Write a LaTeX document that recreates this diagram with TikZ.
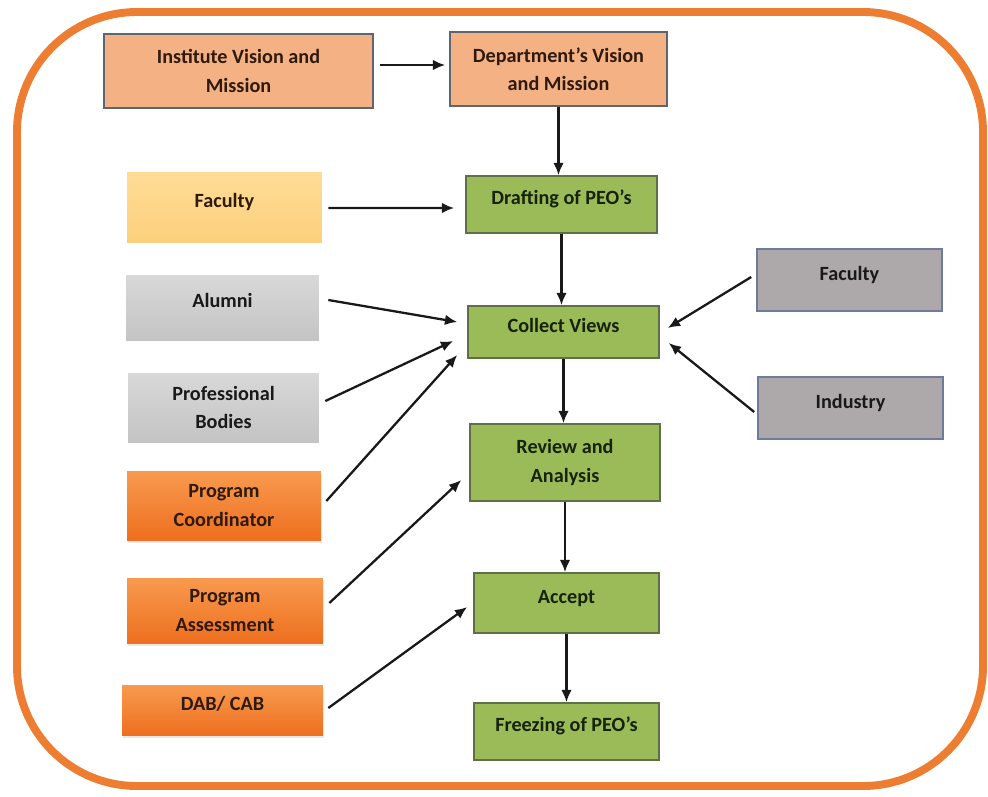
\documentclass[tikz,border=0pt]{standalone}
\usepackage{fontspec}
\setmainfont{Carlito}
\usetikzlibrary{calc,arrows.meta,shadows}

\definecolor{frameorange}{HTML}{ED7D31}
\definecolor{salmon}{HTML}{F4B183}
\definecolor{salmonline}{HTML}{5E6470}
\definecolor{peogreen}{HTML}{9BBB59}
\definecolor{greenline}{HTML}{5F7048}
\definecolor{goldtop}{HTML}{FFDC96}
\definecolor{goldbot}{HTML}{FCD07C}
\definecolor{lgraytop}{HTML}{D8D8D8}
\definecolor{lgraybot}{HTML}{C4C4C4}
\definecolor{dgray}{HTML}{ADA8A9}
\definecolor{dgrayline}{HTML}{6E7C98}
\definecolor{orangetop}{HTML}{F89A4F}
\definecolor{orangebot}{HTML}{EE6F1F}
\definecolor{txtbrown}{HTML}{2E1A0E}
\definecolor{txtgreen}{HTML}{16220A}

\begin{document}
\begin{tikzpicture}[x=0.02cm, y=-0.02cm,
  box/.style={rectangle, align=center, inner sep=2pt, font=\fontsize{11.5}{16}\selectfont\bfseries},
  oneline/.style={text height=8pt, text depth=8pt},
  salmonbox/.style={box, fill=salmon, draw=salmonline, line width=0.9pt, text=txtbrown},
  greenbox/.style={box, fill=peogreen, draw=greenline, line width=0.9pt, text=txtgreen},
  goldbox/.style={box, top color=goldtop, bottom color=goldbot, text=txtbrown},
  lgraybox/.style={box, top color=lgraytop, bottom color=lgraybot, text=black!90},
  dgraybox/.style={box, fill=dgray, draw=dgrayline, line width=0.9pt, text=black!90},
  orangebox/.style={box, top color=orangetop, bottom color=orangebot, text=txtbrown,
    drop shadow={opacity=0.18, shadow xshift=0.6pt, shadow yshift=-1.6pt}},
  flow/.style={-{Latex[length=7pt,width=6pt]}, line width=1.3pt, black!90}
]

  \useasboundingbox (0,0) rectangle (988,796);

  % -- Outer frame --
  \draw[frameorange, line width=4.5pt, rounded corners=2.4cm] (17,12) rectangle (983,786);

  % -- Vision and Mission --
  \node[salmonbox, minimum width=5.38cm, minimum height=1.48cm] (inst) at (238.5,71) {Institute Vision and\\Mission};
  \node[salmonbox, minimum width=4.34cm, minimum height=1.48cm] (dept) at (558.5,69) {Department’s Vision\\and Mission};

  % -- Main flow (centre column) --
  \node[greenbox, oneline, minimum width=3.82cm, minimum height=1.14cm] (draft) at (561.5,204.5) {Drafting of PEO’s};
  \node[greenbox, oneline, minimum width=3.82cm, minimum height=1.04cm] (collect) at (563.5,332) {Collect Views};
  \node[greenbox, minimum width=3.8cm, minimum height=1.54cm] (review) at (565,462.5) {Review and\\Analysis};
  \node[greenbox, oneline, minimum width=3.7cm, minimum height=1.2cm] (accept) at (566.5,603) {Accept};
  \node[greenbox, oneline, minimum width=3.7cm, minimum height=1.14cm] (freeze) at (566.5,731.5) {Freezing of PEO’s};

  % -- Inputs (left column) --
  \node[goldbox, oneline, minimum width=3.9cm, minimum height=1.4cm] (facultyA) at (224.5,207) {Faculty};
  \node[lgraybox, oneline, minimum width=3.86cm, minimum height=1.3cm] (alumni) at (222.5,307.5) {Alumni};
  \node[lgraybox, minimum width=3.82cm, minimum height=1.38cm] (profbodies) at (223.5,407.5) {Professional\\Bodies};
  \node[orangebox, minimum width=3.88cm, minimum height=1.38cm] (progcoord) at (224,505.5) {Program\\Coordinator};
  \node[orangebox, minimum width=3.92cm, minimum height=1.3cm] (progassess) at (225,610.5) {Program\\Assessment};
  \node[orangebox, oneline, minimum width=4.02cm, minimum height=1.0cm] (dabcab) at (222.5,710) {DAB/ CAB};

  % -- Inputs (right column) --
  \node[dgraybox, oneline, minimum width=3.7cm, minimum height=1.24cm] (facultyB) at (849.5,280) {Faculty};
  \node[dgraybox, oneline, minimum width=3.7cm, minimum height=1.24cm] (industry) at (850.5,408) {Industry};

  % -- Vertical flow arrows --
  \draw[flow] ($(inst.east)+(6,-6)$) -- ($(dept.west)+(-4,-4)$);
  \draw[flow] (dept.south) -- (dept.south |- draft.north);
  \draw[flow] (draft.south) -- (draft.south |- collect.north);
  \draw[flow] (collect.south) -- (collect.south |- review.north);
  \draw[flow] (review.south) -- (review.south |- accept.north);
  \draw[flow] (accept.south) -- (accept.south |- freeze.north);

  % -- Input arrows --
  \draw[flow] ($(facultyA.east)+(6,1)$) -- ($(draft.west)+(-11,3.5)$);
  \draw[flow] ($(alumni.east)+(9,-7.5)$) -- ($(collect.west)+(-10,-10)$);
  \draw[flow] ($(profbodies.east)+(6,-6.5)$) -- ($(collect.west)+(-14,9)$);
  \draw[flow] ($(progcoord.east)+(5,-4.5)$) -- ($(collect.west)+(-10,23)$);
  \draw[flow] ($(progassess.east)+(6,-7.5)$) -- ($(review.west)+(-8,17.5)$);
  \draw[flow] ($(dabcab.east)+(5,-2)$) -- ($(accept.west)+(-6,4)$);
  \draw[flow] ($(facultyB.west)+(-5,-3)$) -- ($(collect.east)+(8,-4)$);
  \draw[flow] ($(industry.west)+(-3,4)$) -- ($(collect.east)+(9,11)$);

\end{tikzpicture}
\end{document}
